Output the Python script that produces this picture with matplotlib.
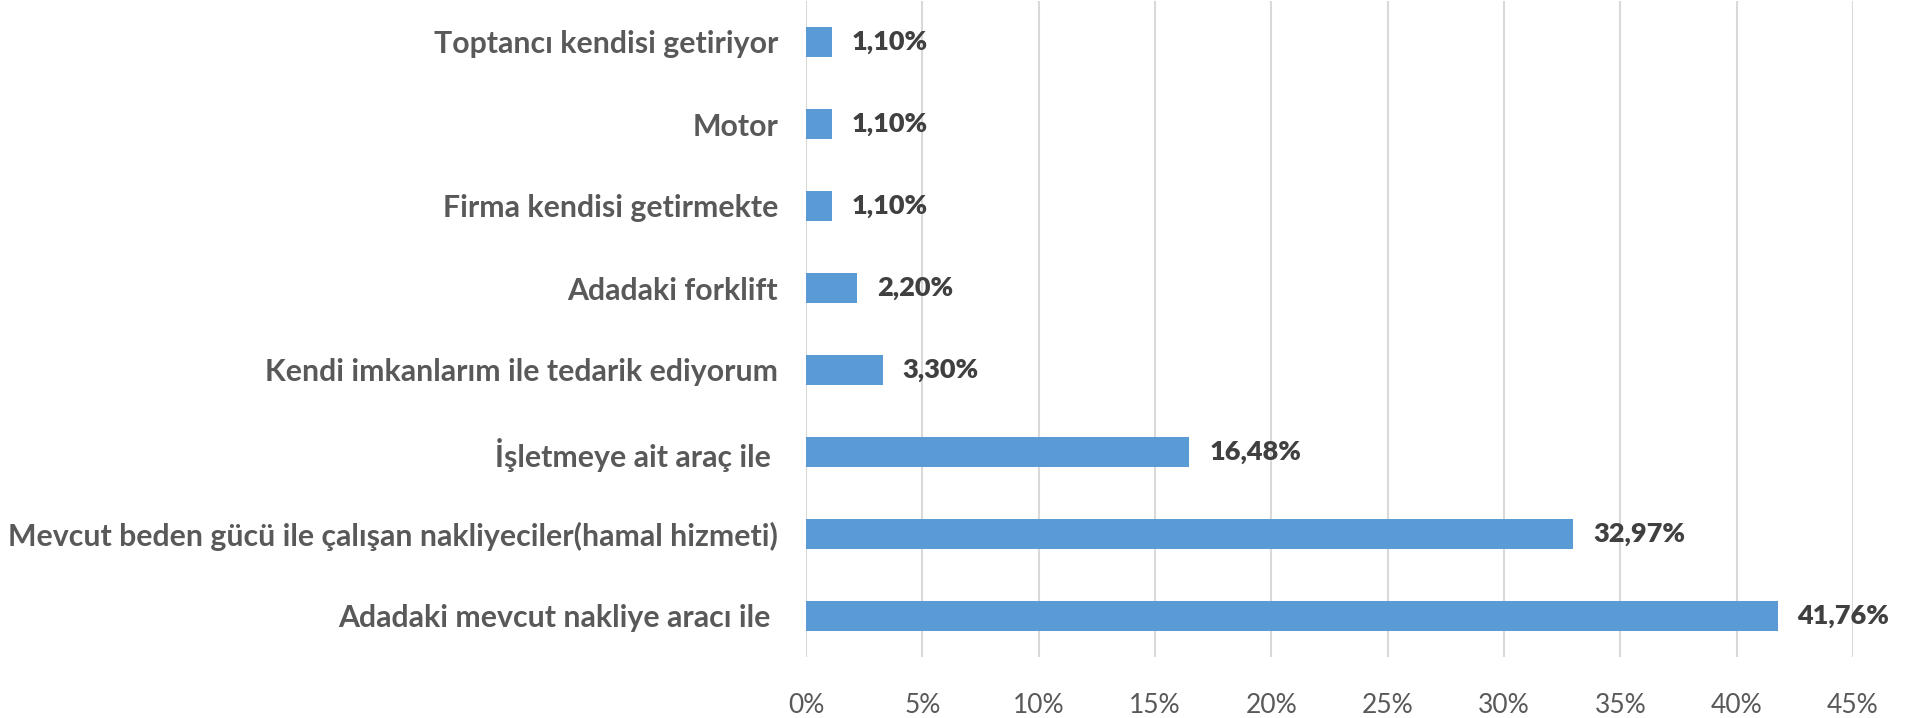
import numpy as np
import matplotlib
matplotlib.use('Agg')
from matplotlib import pyplot as plt

# categories bottom -> top
categories = [
    'Adadaki mevcut nakliye aracı ile ',
    'Mevcut beden gücü ile çalışan nakliyeciler(hamal hizmeti)',
    'İşletmeye ait araç ile ',
    'Kendi imkanlarım ile tedarik ediyorum',
    'Adadaki forklift',
    'Firma kendisi getirmekte',
    'Motor',
    'Toptancı kendisi getiriyor',
]
values = [41.76, 32.97, 16.48, 3.30, 2.20, 1.10, 1.10, 1.10]
value_labels = ['41,76%', '32,97%', '16,48%', '3,30%', '2,20%', '1,10%', '1,10%', '1,10%']
xticks = [0, 5, 10, 15, 20, 25, 30, 35, 40, 45]
xtick_labels = ['%d%%' % t for t in xticks]

plt.rcParams['font.family'] = ['Lato', 'DejaVu Sans']

fig = plt.figure(figsize=(19.11, 7.18), dpi=100)
ax = fig.add_axes([806 / 1911, 61 / 718, 1047 / 1911, 656 / 718])

y = np.arange(len(categories))
ax.barh(y, values, height=0.366, color='#5B9BD5', zorder=3)

for yi, v, lab in zip(y, values, value_labels):
    ax.text(v + 0.85, yi, lab, va='center', ha='left', fontsize=19.5,
            fontweight='heavy', color='#404040')

ax.set_xlim(0, 45)
ax.set_ylim(-0.5, len(categories) - 0.5)
ax.set_xticks(xticks)
ax.set_xticklabels(xtick_labels, fontsize=19, color='#595959')
ax.set_yticks(y)
ax.set_yticklabels(categories, fontsize=21.8, fontweight='bold', color='#595959')
ax.tick_params(axis='both', length=0)
ax.tick_params(axis='x', pad=26)
ax.tick_params(axis='y', pad=20)
ax.grid(axis='x', color='#d9d9d9', linewidth=1.5, zorder=0)
for s in ax.spines.values():
    s.set_visible(False)

fig.savefig('out.png', dpi=100)
